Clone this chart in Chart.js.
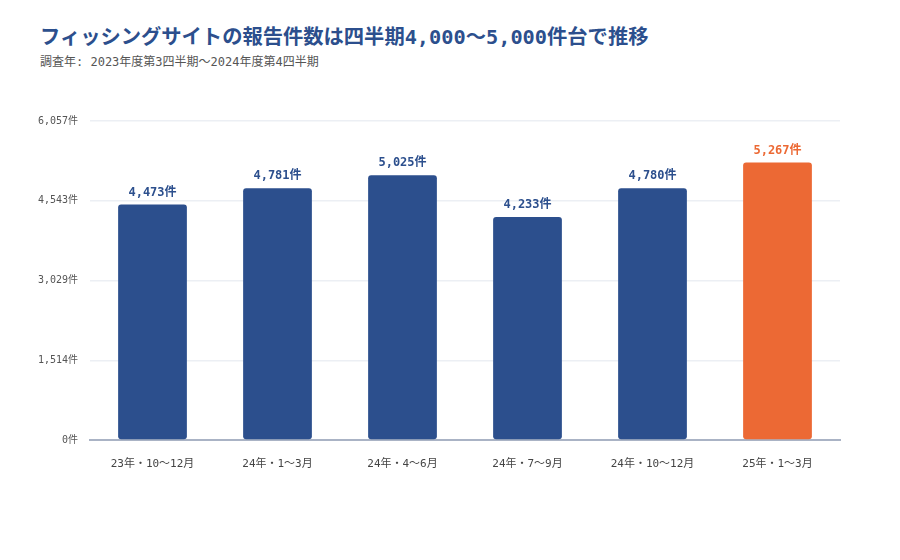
<!DOCTYPE html>
<html lang="ja">
<head>
<meta charset="utf-8">
<script src="https://cdn.jsdelivr.net/npm/chart.js@4"></script>
<style>
  html, body { margin: 0; padding: 0; background: #fff; }
  body { width: 900px; height: 560px; position: relative; overflow: hidden;
         font-family: "DejaVu Sans Mono", "Noto Sans CJK JP", monospace; }
  #title { position: absolute; left: 40px; top: 20px; margin: 0; font-size: 20.3px;
           font-weight: bold; color: #2c4f8d; white-space: nowrap; }
  #subtitle { position: absolute; left: 40px; top: 52px; margin: 0; font-size: 12px;
              color: #555; white-space: nowrap; }
  #wrap { position: absolute; left: 0; top: 0; width: 900px; height: 560px; }
</style>
</head>
<body>
<h1 id="title">フィッシングサイトの報告件数は四半期4,000〜5,000件台で推移</h1>
<p id="subtitle">調査年: 2023年度第3四半期〜2024年度第4四半期</p>
<div id="wrap"><canvas id="chart" width="900" height="560"></canvas></div>
<script>
// DATA
const quarters = ["23年・10〜12月", "24年・1〜3月", "24年・4〜6月", "24年・7〜9月", "24年・10〜12月", "25年・1〜3月"];
const reports = [4473, 4781, 5025, 4233, 4780, 5267];
const highlightIndex = 5;

const FONT = "'DejaVu Sans Mono', 'Noto Sans CJK JP', monospace";
const BLUE = "#2c4f8d";
const ORANGE = "#ec6934";

const barColors = reports.map((_, i) => (i === highlightIndex ? ORANGE : BLUE));
const yMax = Math.max(...reports) * 1.15;

const fmt = (v) => Math.round(v).toLocaleString("en-US") + "件";

// value labels above each bar
const valueLabels = {
  id: "valueLabels",
  afterDatasetsDraw(chart) {
    const { ctx } = chart;
    const meta = chart.getDatasetMeta(0);
    ctx.save();
    ctx.font = "bold 12px " + FONT;
    ctx.textAlign = "center";
    ctx.textBaseline = "bottom";
    meta.data.forEach((bar, i) => {
      ctx.fillStyle = barColors[i];
      ctx.fillText(fmt(reports[i]), bar.x, bar.y - 6);
    });
    ctx.restore();
  },
};

new Chart(document.getElementById("chart"), {
  type: "bar",
  data: {
    labels: quarters,
    datasets: [{
      data: reports,
      backgroundColor: barColors,
      borderRadius: 3,
      borderSkipped: false,
      barPercentage: 0.55,
      categoryPercentage: 1,
    }],
  },
  options: {
    responsive: false,
    animation: false,
    layout: { padding: { left: 20, right: 60, top: 121, bottom: 90 } },
    plugins: { legend: { display: false }, tooltip: { enabled: false } },
    scales: {
      x: {
        grid: { display: false },
        border: { display: true, color: "#aab3c5", width: 2 },
        ticks: { color: "#444", padding: 10, font: { family: FONT, size: 11 } },
        afterFit: (scale) => { scale.height = 30; },
      },
      y: {
        min: 0,
        max: yMax,
        afterBuildTicks: (scale) => {
          scale.ticks = [0, 1, 2, 3, 4].map((k) => ({ value: (yMax / 4) * k }));
        },
        grid: { color: "#eceff4", lineWidth: 1.5, drawTicks: false },
        border: { display: false },
        ticks: {
          color: "#555",
          padding: 12,
          font: { family: FONT, size: 10 },
          callback: (v) => fmt(v),
        },
        afterFit: (scale) => { scale.width = 70; },
      },
    },
  },
  plugins: [valueLabels],
});
</script>
</body>
</html>
